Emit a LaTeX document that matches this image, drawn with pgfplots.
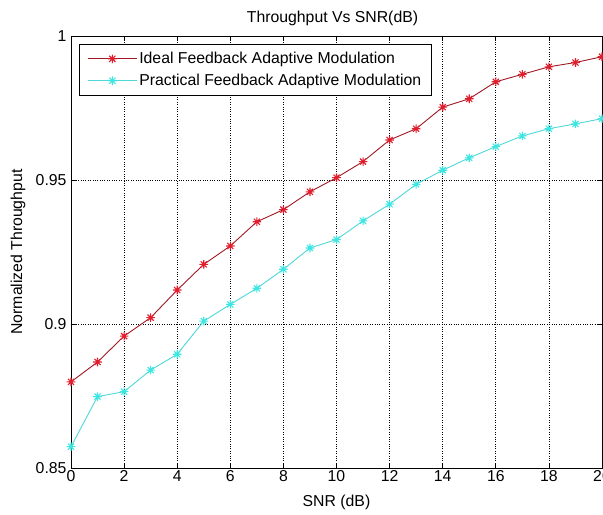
\documentclass[border=0pt]{standalone}
\usepackage{fontspec}
\setmainfont{Liberation Sans}
\usepackage{pgfplots}
\pgfplotsset{compat=1.18}

\definecolor{redline}{RGB}{160,25,35}
\definecolor{redmark}{RGB}{225,30,45}
\definecolor{cyanline}{RGB}{80,215,215}
\definecolor{cyanmark}{RGB}{60,230,225}

\pgfdeclareplotmark{mstar}{%
  \pgfpathmoveto{\pgfqpoint{-\pgfplotmarksize}{0pt}}\pgfpathlineto{\pgfqpoint{\pgfplotmarksize}{0pt}}%
  \pgfpathmoveto{\pgfqpoint{0pt}{-\pgfplotmarksize}}\pgfpathlineto{\pgfqpoint{0pt}{\pgfplotmarksize}}%
  \pgfpathmoveto{\pgfqpoint{-.707\pgfplotmarksize}{-.707\pgfplotmarksize}}\pgfpathlineto{\pgfqpoint{.707\pgfplotmarksize}{.707\pgfplotmarksize}}%
  \pgfpathmoveto{\pgfqpoint{-.707\pgfplotmarksize}{.707\pgfplotmarksize}}\pgfpathlineto{\pgfqpoint{.707\pgfplotmarksize}{-.707\pgfplotmarksize}}%
  \pgfusepathqstroke}

\newcommand{\fs}{\fontsize{15.8bp}{18bp}\selectfont}

\begin{document}
\begin{tikzpicture}
\begin{axis}[
  name=ax,
  scale only axis, width=531bp, height=432bp,
  xmin=0, xmax=20, ymin=0.85, ymax=1,
  xtick={0,2,...,20}, ytick={0.85,0.9,0.95,1},
  tick align=inside, major tick length=5bp,
  grid=major, grid style={black, dotted, line width=0.7bp},
  axis line style={black, line width=0.8bp},
  tick style={black, line width=0.7bp},
  /pgf/number format/assume math mode=true,
  ticklabel style={font=\fs},
  yticklabel style={/pgf/number format/fixed, /pgf/number format/precision=2, xshift=-1bp},
  xticklabel style={yshift=1bp},
  title={Throughput Vs SNR(dB)},
  title style={font=\fs, at={(axis description cs:0.5,1)}, anchor=center, yshift=12bp, xshift=-4bp},
  xlabel={SNR (dB)},
  xlabel style={font=\fs, at={(axis description cs:0.5,0)}, anchor=center, yshift=-34bp},
  ylabel={Normalized Throughput},
  ylabel style={font=\fs, at={(axis description cs:-0.0998,0.5)}, anchor=center},
  legend style={at={(axis description cs:0.0151,0.9815)}, anchor=north west,
    draw=black, line width=0.8bp, font=\fs, fill=white,
    inner xsep=8bp, inner ysep=6bp, row sep=5bp,
    /tikz/every even column/.append style={column sep=0bp}},
  legend cell align=left,
  legend image code/.code={%
    \draw[mark repeat=2, mark phase=2, #1] plot coordinates {(0bp,0bp) (24.5bp,0bp) (49bp,0bp)};},
]
\addplot[color=redline, line width=0.9bp, mark=mstar, mark size=4.3bp, mark options={color=redmark, line width=1.1bp}] coordinates {
(0,0.8799) (1,0.8868) (2,0.8958) (3,0.9022) (4,0.9118) (5,0.9207) (6,0.9271)
(7,0.9355) (8,0.9397) (9,0.9459) (10,0.9508) (11,0.9564) (12,0.9639) (13,0.9678)
(14,0.9753) (15,0.9782) (16,0.9841) (17,0.9867) (18,0.9893) (19,0.9908) (20,0.9928)};
\addlegendentry{Ideal Feedback Adaptive Modulation}
\addplot[color=cyanline, line width=0.9bp, mark=mstar, mark size=4.3bp, mark options={color=cyanmark, line width=1.1bp}] coordinates {
(0,0.8574) (1,0.8748) (2,0.8765) (3,0.8840) (4,0.8895) (5,0.9010) (6,0.9068)
(7,0.9124) (8,0.9190) (9,0.9264) (10,0.9293) (11,0.9358) (12,0.9416) (13,0.9485)
(14,0.9534) (15,0.9577) (16,0.9616) (17,0.9653) (18,0.9678) (19,0.9695) (20,0.9713)};
\addlegendentry{Practical Feedback Adaptive Modulation}
\end{axis}
\pgfresetboundingbox
\path[use as bounding box] (ax.south west) ++(-71bp,-47bp) rectangle ++(603bp,515bp);
\end{tikzpicture}
\end{document}
